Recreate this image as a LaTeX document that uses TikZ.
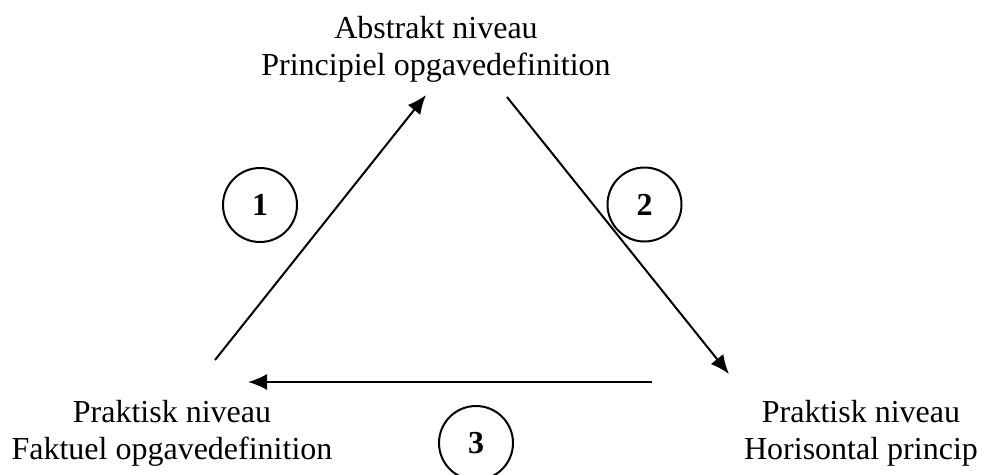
\documentclass[tikz,border=0pt]{standalone}
\usepackage{fontspec}
\setmainfont{Liberation Serif}
\usetikzlibrary{arrows.meta}
\tikzset{
  label text/.style={inner sep=0pt, align=center, anchor=base, font=\fontsize{32}{37}\selectfont},
  num/.style={circle, draw, line width=2pt, minimum size=74pt, inner sep=0pt, font=\fontsize{32}{34}\selectfont\bfseries},
  conn/.style={line width=2pt, -{Latex[length=19pt,width=16pt]}}
}
\begin{document}
\begin{tikzpicture}[x=1pt,y=-1pt]
\useasboundingbox (0,0) rectangle (985,474);
\node[label text] (top) at (436,75) {Abstrakt niveau\\Principiel opgavedefinition};
\node[label text] (left) at (172,459) {Praktisk niveau\\Faktuel opgavedefinition};
\node[label text] (right) at (861,459) {Praktisk niveau\\Horisontal princip};
\node[num] (n1) at (260,205) {1};
\node[num] (n2) at (644.5,204.5) {2};
\node[num] (n3) at (476,443) {3};
\coordinate (a1s) at (215,360);
\coordinate (a1e) at (426,95);
\coordinate (a2s) at (507,97);
\coordinate (a2e) at (729,374);
\coordinate (a3s) at (652,382);
\coordinate (a3e) at (248,382);
\draw[conn] (a1s) -- (a1e);
\draw[conn] (a2s) -- (a2e);
\draw[conn] (a3s) -- (a3e);
\end{tikzpicture}
\end{document}
